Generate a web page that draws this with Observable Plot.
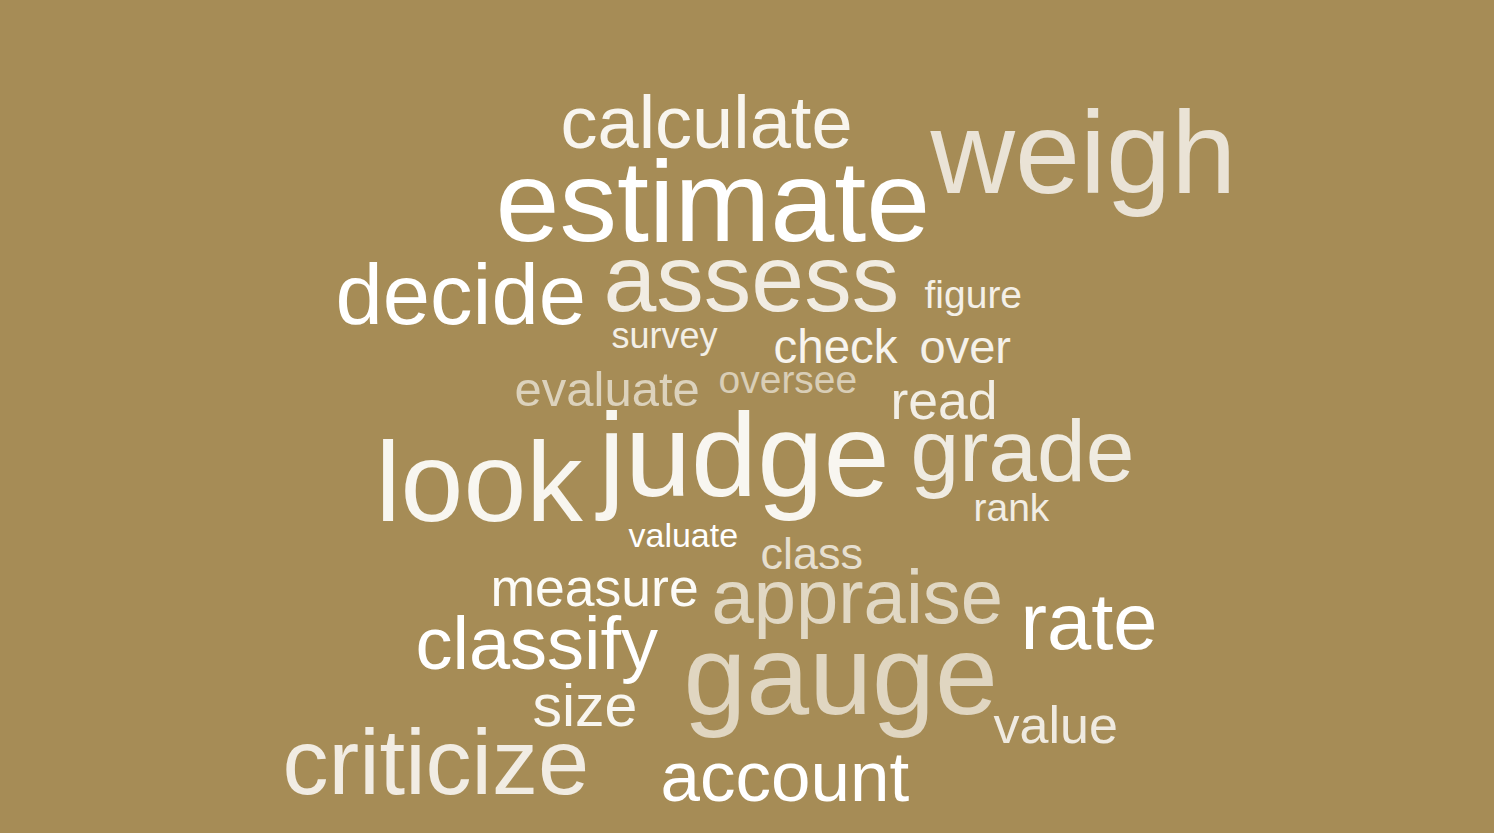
<!DOCTYPE html>
<html>
<head>
<meta charset="utf-8">
<script src="https://cdn.jsdelivr.net/npm/d3@7"></script>
<script src="https://cdn.jsdelivr.net/npm/@observablehq/plot@0.6"></script>
<style>
  html, body { margin: 0; padding: 0; background: #A68C56; }
  #chart { width: 1494px; height: 833px; overflow: hidden; }
</style>
</head>
<body>
<div id="chart"></div>
<script>
// Word cloud data: word, weight (rendered size), layout position (left, baseline), tint
const words = ["calculate","estimate","weigh","decide","assess","figure","survey","check","over",
  "evaluate","oversee","read","look","judge","grade","rank","valuate","class","measure",
  "appraise","rate","classify","gauge","size","value","criticize","account"];
const weights = [74,115,117,85,95,39,36,47.5,47,49,39,53.5,113,119,87.5,39,34,45,53.5,76,79.5,74,113,59,52,92,71];
const layoutX = [560,495,930,335,603,924,611,773,919,514,718,890,375,598,910,973,628,760,490,711,1020,415,683,532,993,282,660];
const layoutY = [147,240,192,323,310,307,347,362,362,405,392,418,520,495,480,520,546,568,605,622,648,668,713,725,742,793,800];
const tints = ["#F8F5EE","#FFFFFF","#EAE3D6","#FFFFFF","#F1ECE2","#F4F0E8","#F3EFE6","#F7F4EE","#F5F1E9",
  "#DCD2BC","#D9CEB6","#F2EEE5","#F8F6F0","#F8F6F0","#EFEBE1","#F1EDE4","#FFFFFF","#E6DFCF","#FCFBF7",
  "#E1D8C4","#FFFFFF","#FFFFFF","#E0D6C1","#F8F6F0","#EFEAE0","#F1ECE3","#FFFFFF"];

const W = 1494, H = 833;
const data = words.map((w, i) => ({word: w, weight: weights[i], x: layoutX[i], y: layoutY[i], tint: tints[i]}));

const chart = Plot.plot({
  width: W,
  height: H,
  margin: 0,
  style: {background: "#A68C56", fontFamily: "'Liberation Sans', Arial, Helvetica, sans-serif"},
  x: {domain: [0, W], range: [0, W], axis: null},
  y: {domain: [0, H], range: [0, H], axis: null},
  color: {type: "identity"},
  marks: [
    Plot.text(data, {
      x: "x",
      y: "y",
      text: "word",
      fontSize: "weight",
      fill: "tint",
      textAnchor: "start",
      lineAnchor: "bottom",
      fontFamily: "'Liberation Sans', Arial, Helvetica, sans-serif"
    })
  ]
});
document.getElementById("chart").appendChild(chart);
</script>
</body>
</html>
